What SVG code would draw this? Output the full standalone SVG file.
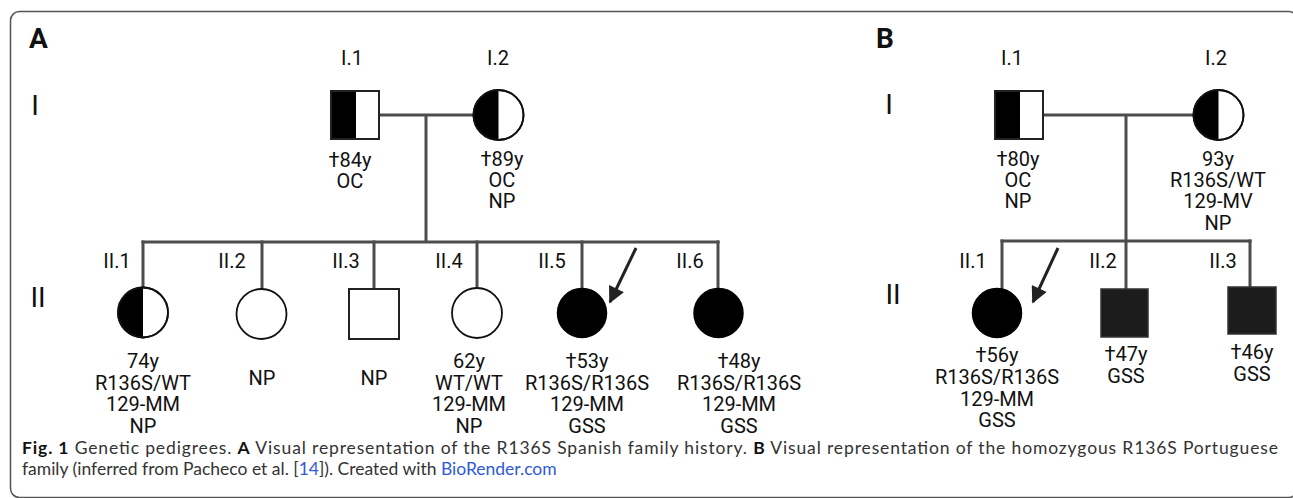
<svg xmlns="http://www.w3.org/2000/svg" width="1293" height="498" viewBox="0 0 1293 498">
  <style>
    .t { font-family: Roboto, "Liberation Sans", sans-serif; font-size: 20px; fill: #111; text-anchor: middle; }
    .gen { font-family: Roboto, "Liberation Sans", sans-serif; font-size: 28px; fill: #111; text-anchor: middle; }
    .panel { font-family: Roboto, "Liberation Sans", sans-serif; font-size: 28px; font-weight: bold; fill: #111; }
    .line { stroke: #4d4d4d; stroke-width: 3; fill: none; stroke-linecap: square; }
    .sq { stroke: #222; stroke-width: 2; fill: #fff; }
    .ci { stroke: #111; stroke-width: 1.8; fill: #fff; }
    .half { fill: #000; }
    .aff { fill: #000; stroke: #000; stroke-width: 1.5; }
    .affsq { fill: #1c1c1c; stroke: #333; stroke-width: 1.5; }
    .arrow { stroke: #222; stroke-width: 3; fill: none; }
    .cap { font-family: Lato, "Open Sans", sans-serif; font-size: 17.5px; fill: #333; }
    .capb { font-weight: bold; fill: #111; }
    .link { fill: #2f5bd6; }
  </style>
  <defs>
    <marker id="head" viewBox="0 0 10 10" refX="9" refY="5" markerWidth="6" markerHeight="5.5" markerUnits="strokeWidth" orient="auto">
      <path d="M0,0 L10,5 L0,10 Z" fill="#222"/>
    </marker>
  </defs>

  <!-- outer frame -->
  <rect x="10.5" y="11.5" width="1287" height="486" rx="9" fill="#fff" stroke="#555" stroke-width="1.5"/>

  <!-- panel letters and generation numerals -->
  <text class="panel" x="29" y="48">A</text>
  <text class="panel" x="876" y="48">B</text>
  <text class="gen" x="35" y="115">I</text>
  <text class="gen" x="38" y="307">II</text>
  <text class="gen" x="889" y="114">I</text>
  <text class="gen" x="893" y="304">II</text>

  <!-- connectors -->
  <g id="connectors">
    <!-- family A -->
    <path class="line" d="M379,115 H473 M426,115 V242 M143,242 H718"/>
    <path class="line" d="M143,242 V287 M262,242 V288 M374,242 V288 M477,242 V288 M582,242 V288 M718,242 V288"/>
    <line class="arrow" x1="636" y1="248" x2="610" y2="302" marker-end="url(#head)"/>
    <!-- family B -->
    <path class="line" d="M1043,115 H1193 M1126,115 V289 M1002,241 H1250"/>
    <path class="line" d="M1002,241 V288 M1250,241 V287"/>
    <line class="arrow" x1="1058" y1="248" x2="1033" y2="302" marker-end="url(#head)"/>
  </g>

  <!-- family A, generation I -->
  <g id="A-I1">
    <text class="t" x="352" y="65">I.1</text>
    <rect class="sq" x="331" y="91" width="48" height="48"/>
    <rect class="half" x="331" y="91" width="25" height="48"/>
    <rect x="331" y="91" width="48" height="48" fill="none" stroke="#222" stroke-width="2"/>
    <text class="t" x="350" y="167">†84y</text>
    <text class="t" x="350" y="188">OC</text>
  </g>
  <g id="A-I2">
    <text class="t" x="498" y="65">I.2</text>
    <circle class="ci" cx="498.5" cy="115" r="25"/>
    <path class="half" d="M498.5,90 A25,25 0 0 0 498.5,140 Z"/>
    <circle cx="498.5" cy="115" r="25" fill="none" stroke="#111" stroke-width="1.8"/>
    <text class="t" x="502" y="166">†89y</text>
    <text class="t" x="502" y="187">OC</text>
    <text class="t" x="502" y="208">NP</text>
  </g>

  <!-- family A, generation II -->
  <g id="A-II1">
    <text class="t" x="117" y="268">II.1</text>
    <circle class="ci" cx="143" cy="312.5" r="25"/>
    <path class="half" d="M143,287.5 A25,25 0 0 0 143,337.5 Z"/>
    <circle cx="143" cy="312.5" r="25" fill="none" stroke="#111" stroke-width="1.8"/>
    <text class="t" x="143" y="368">74y</text>
    <text class="t" x="143" y="390">R136S/WT</text>
    <text class="t" x="143" y="411">129-MM</text>
    <text class="t" x="143" y="433">NP</text>
  </g>
  <g id="A-II2">
    <text class="t" x="232" y="268">II.2</text>
    <circle class="ci" cx="261.5" cy="314" r="25"/>
    <text class="t" x="262" y="385">NP</text>
  </g>
  <g id="A-II3">
    <text class="t" x="346" y="268">II.3</text>
    <rect class="sq" x="349" y="289" width="50" height="50"/>
    <text class="t" x="374" y="385">NP</text>
  </g>
  <g id="A-II4">
    <text class="t" x="449" y="268">II.4</text>
    <circle class="ci" cx="477" cy="313" r="25"/>
    <text class="t" x="469" y="368">62y</text>
    <text class="t" x="469" y="390">WT/WT</text>
    <text class="t" x="469" y="411">129-MM</text>
    <text class="t" x="469" y="433">NP</text>
  </g>
  <g id="A-II5">
    <text class="t" x="552" y="268">II.5</text>
    <circle class="aff" cx="582" cy="313" r="24.5"/>
    <text class="t" x="587" y="368">†53y</text>
    <text class="t" x="587" y="390">R136S/R136S</text>
    <text class="t" x="587" y="411">129-MM</text>
    <text class="t" x="587" y="433">GSS</text>
  </g>
  <g id="A-II6">
    <text class="t" x="690" y="268">II.6</text>
    <circle class="aff" cx="718.5" cy="313" r="24.5"/>
    <text class="t" x="739" y="368">†48y</text>
    <text class="t" x="739" y="390">R136S/R136S</text>
    <text class="t" x="739" y="411">129-MM</text>
    <text class="t" x="739" y="433">GSS</text>
  </g>

  <!-- family B, generation I -->
  <g id="B-I1">
    <text class="t" x="1012" y="65">I.1</text>
    <rect class="sq" x="995" y="91" width="48" height="48"/>
    <rect class="half" x="995" y="91" width="25" height="48"/>
    <rect x="995" y="91" width="48" height="48" fill="none" stroke="#222" stroke-width="2"/>
    <text class="t" x="1018" y="166">†80y</text>
    <text class="t" x="1018" y="187">OC</text>
    <text class="t" x="1018" y="208">NP</text>
  </g>
  <g id="B-I2">
    <text class="t" x="1216" y="65">I.2</text>
    <circle class="ci" cx="1218.5" cy="115" r="25"/>
    <path class="half" d="M1218.5,90 A25,25 0 0 0 1218.5,140 Z"/>
    <circle cx="1218.5" cy="115" r="25" fill="none" stroke="#111" stroke-width="1.8"/>
    <text class="t" x="1218" y="166">93y</text>
    <text class="t" x="1218" y="187">R136S/WT</text>
    <text class="t" x="1218" y="208">129-MV</text>
    <text class="t" x="1218" y="230">NP</text>
  </g>

  <!-- family B, generation II -->
  <g id="B-II1">
    <text class="t" x="973" y="268">II.1</text>
    <circle class="aff" cx="997" cy="313" r="24.5"/>
    <text class="t" x="997" y="362">†56y</text>
    <text class="t" x="997" y="384">R136S/R136S</text>
    <text class="t" x="997" y="406">129-MM</text>
    <text class="t" x="997" y="427">GSS</text>
  </g>
  <g id="B-II2">
    <text class="t" x="1103" y="268">II.2</text>
    <rect class="affsq" x="1101" y="289" width="47" height="48"/>
    <text class="t" x="1126" y="361">†47y</text>
    <text class="t" x="1126" y="383">GSS</text>
  </g>
  <g id="B-II3">
    <text class="t" x="1223" y="268">II.3</text>
    <rect class="affsq" x="1228" y="287" width="48" height="47"/>
    <text class="t" x="1252" y="359">†46y</text>
    <text class="t" x="1252" y="381">GSS</text>
  </g>

  <!-- figure caption -->
  <text class="cap" x="22" y="454" textLength="1256" lengthAdjust="spacing"><tspan class="capb">Fig. 1</tspan>  Genetic pedigrees. <tspan class="capb">A</tspan> Visual representation of the R136S Spanish family history. <tspan class="capb">B</tspan> Visual representation of the homozygous R136S Portuguese</text>
  <text class="cap" x="22" y="475">family (inferred from Pacheco et al. [<tspan class="link">14</tspan>]). Created with <tspan class="link">BioRender.com</tspan></text>
</svg>
